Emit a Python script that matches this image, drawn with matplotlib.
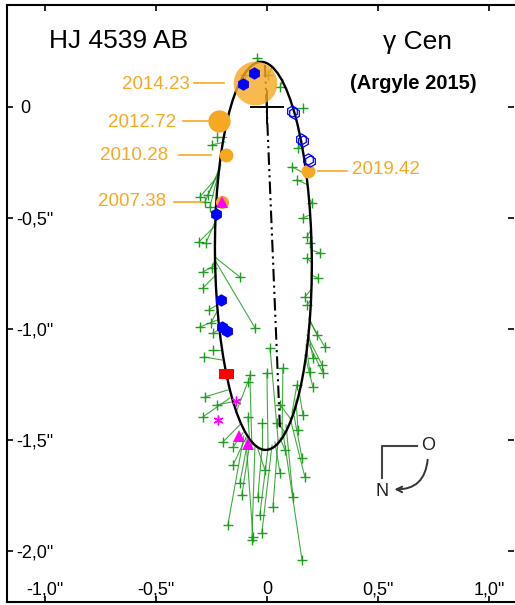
import matplotlib
matplotlib.use('Agg')
from matplotlib import pyplot as plt
from matplotlib.patches import Ellipse

plt.rcParams['font.family'] = ['Liberation Sans', 'DejaVu Sans']

# Beobachtungen (Bogensekunden) und zugehoerige Bahnpunkte
obs_x = [-0.045, -0.099, 0.005, 0.059, 0.162, 0.140, 0.113, 0.135, 0.203, 0.162,
         0.180, 0.194, 0.239, 0.180, 0.230, 0.171, 0.180, 0.225, 0.261, 0.207,
         0.248, 0.252, 0.194, 0.207, 0.162, 0.140, 0.158, 0.171, 0.117, 0.158,
         0.027, -0.023, -0.032, -0.041, -0.009, -0.068, -0.113, -0.122, -0.153, -0.176,
         -0.198, 0.059, 0.081, 0.045, 0.059, 0.014, -0.077, 0.000, 0.072, 0.135,
         -0.023, -0.086, -0.288, -0.279, -0.225, -0.153, -0.086, -0.063, -0.302, -0.284,
         -0.252, -0.261, -0.243, -0.288, -0.288, -0.248, -0.122, -0.054, -0.306, -0.275,
         -0.302, -0.266, -0.279, -0.257, -0.225, -0.248, -0.243]
obs_y = [0.221, 0.144, 0.144, 0.090, -0.005, -0.185, -0.270, -0.329, -0.432, -0.500,
         -0.586, -0.613, -0.658, -0.680, -0.770, -0.856, -0.892, -1.027, -1.081, -1.131,
         -1.162, -1.198, -1.194, -1.261, -1.387, -1.455, -1.581, -1.667, -1.757, -2.041,
         -1.802, -1.919, -1.838, -1.757, -1.635, -1.950, -1.748, -1.694, -1.613, -1.883,
         -1.509, -1.649, -1.545, -1.423, -1.342, -1.086, -1.207, -1.198, -1.176, -1.252,
         -1.423, -1.396, -1.396, -1.306, -1.342, -1.532, -1.239, -1.937, -0.991, -1.126,
         -0.973, -0.914, -1.018, -0.815, -0.743, -0.725, -0.766, -0.995, -0.608, -0.613,
         -0.405, -0.396, -0.428, -0.450, -0.135, -0.171, -1.095]
orb_x = [-0.036, -0.095, 0.023, 0.072, 0.126, 0.162, 0.180, 0.185, 0.194, 0.194,
         0.198, 0.198, 0.198, 0.198, 0.198, 0.198, 0.198, 0.189, 0.189, 0.185,
         0.180, 0.180, 0.176, 0.171, 0.144, 0.131, 0.117, 0.104, 0.086, 0.072,
         0.050, 0.023, 0.005, -0.023, -0.041, -0.054, -0.077, -0.086, -0.095, -0.104,
         -0.122, 0.036, 0.059, 0.081, 0.104, 0.050, -0.068, 0.005, 0.068, 0.113,
         -0.023, -0.077, -0.167, -0.176, -0.158, -0.108, -0.140, -0.095, -0.221, -0.203,
         -0.221, -0.225, -0.216, -0.230, -0.230, -0.230, -0.230, -0.230, -0.230, -0.230,
         -0.216, -0.212, -0.207, -0.212, -0.185, -0.189, -0.207]
orb_y = [0.203, 0.131, 0.176, 0.122, -0.005, -0.171, -0.306, -0.351, -0.419, -0.486,
         -0.554, -0.599, -0.644, -0.698, -0.757, -0.824, -0.869, -0.950, -0.959, -1.005,
         -1.027, -1.050, -1.072, -1.117, -1.275, -1.320, -1.365, -1.401, -1.432, -1.464,
         -1.500, -1.523, -1.536, -1.545, -1.541, -1.532, -1.514, -1.505, -1.491, -1.482,
         -1.432, -1.509, -1.491, -1.464, -1.401, -1.500, -1.523, -1.541, -1.482, -1.378,
         -1.545, -1.514, -1.311, -1.275, -1.329, -1.468, -1.378, -1.491, -0.959, -1.140,
         -0.914, -0.892, -1.005, -0.757, -0.712, -0.680, -0.680, -0.698, -0.532, -0.509,
         -0.306, -0.284, -0.261, -0.275, -0.135, -0.158, -1.095]

# Sonderbeobachtungen
blue_x = [-0.059, -0.108, -0.230, -0.207, -0.203, -0.180]
blue_y = [0.153, 0.104, -0.482, -0.869, -0.991, -1.009]
blue_open_x = [0.113, 0.122, 0.153, 0.162, 0.185, 0.192]
blue_open_y = [-0.018, -0.027, -0.144, -0.153, -0.234, -0.243]
red_x = [-0.194, -0.171]
red_y = [-1.203, -1.203]
star_x = [-0.140, -0.221]
star_y = [-1.324, -1.410]
tri_x = [-0.126, -0.086, -0.203]
tri_y = [-1.482, -1.518, -0.428]

# Epochen
epochs = ['2014.23', '2012.72', '2010.28', '2007.38', '2019.42']
ep_x = [-0.054, -0.216, -0.185, -0.203, 0.185]
ep_y = [0.108, -0.063, -0.216, -0.428, -0.288]
ep_size = [31.5, 16, 10, 9.5, 10]

# Bahnelemente (scheinbare Ellipse)
orbit_center = (-0.016, -0.671)
orbit_a = 0.874
orbit_b = 0.218
orbit_tilt = 90.7

xticks = [-1.0, -0.5, 0, 0.5, 1.0]
xlabels = ['-1,0"', '-0,5"', '0', '0,5"', '1,0"']
yticks = [0, -0.5, -1.0, -1.5, -2.0]
ylabels = [' 0', '-0,5"', '-1,0"', '-1,5"', '-2,0"']

orange = '#f7a823'
green = '#1e9e1e'

fig = plt.figure(figsize=(5.15, 6.05), dpi=100)
ax = fig.add_axes([7/515, 3/605, 507/515, 597/605])
ax.set_xlim(-1.171, 1.113)
ax.set_ylim(-2.230, 0.459)

for ox, oy, px, py in zip(obs_x, obs_y, orb_x, orb_y):
    ax.plot([ox, px], [oy, py], color=green, lw=0.8, alpha=0.85, zorder=2)
ax.plot(obs_x, obs_y, '+', color=green, ms=7, mew=1.0, zorder=3)

ax.add_patch(Ellipse(orbit_center, 2*orbit_a, 2*orbit_b, angle=orbit_tilt,
                     fill=False, ec='black', lw=1.7, zorder=4))
ax.plot([-0.009, 0.059], [0.189, -1.455], color='black', lw=1.5,
        dashes=(6, 2, 1, 2, 1, 2), zorder=4)
ax.plot([0], [0], '+', color='black', ms=24, mew=1.4, zorder=4)

for i in range(len(epochs)):
    al = 0.8 if i == 0 else 1.0
    ax.plot(ep_x[i], ep_y[i], 'o', color=orange, ms=ep_size[i], mew=0, alpha=al, zorder=5)

ax.plot(blue_x, blue_y, 'h', color='#0000ff', ms=9, mew=0, zorder=6)
ax.plot(blue_open_x, blue_open_y, 'h', mfc='none', mec='#0000ff', ms=8, mew=0.9, zorder=6)
ax.plot(red_x, red_y, 's', color='#ff0000', ms=6.5, mew=0, zorder=6)
ax.plot(star_x, star_y, marker=(6, 2, 0), ls='none', color='#ff00ff', ms=7, mew=1, zorder=6)
ax.plot(tri_x, tri_y, '^', color='#ff00ff', ms=8, mew=0, zorder=6)

# Beschriftung der Epochen
lab_x = [-0.347, -0.410, -0.446, -0.455, 0.383]
lab_y = [0.099, -0.068, -0.221, -0.428, -0.284]
lead_x0 = [-0.329, -0.378, -0.396, -0.419, 0.230]
lead_x1 = [-0.194, -0.257, -0.252, -0.288, 0.360]
for i in range(len(epochs)):
    ha = 'left' if ep_x[i] > 0 else 'right'
    ax.text(lab_x[i], lab_y[i], epochs[i], color=orange, fontsize=13.5, ha=ha, va='center')
    ax.plot([lead_x0[i], lead_x1[i]], [ep_y[i], ep_y[i]], color=orange, lw=1.2, zorder=3)

ax.text(-0.982, 0.297, 'HJ 4539 AB', fontsize=19, ha='left', va='center')
ax.text(0.680, 0.293, 'γ Cen', fontsize=19, ha='center', va='center')
ax.text(0.658, 0.104, '(Argyle 2015)', fontsize=14.5, fontweight='bold', ha='center', va='center')

# Orientierung
ax.plot([0.518, 0.518, 0.676], [-1.671, -1.527, -1.527], color='#444444', lw=1.5)
ax.text(0.725, -1.523, 'O', fontsize=13, ha='center', va='center', color='#222222')
ax.text(0.518, -1.734, 'N', fontsize=13, ha='center', va='center', color='#222222')
ax.annotate('', xy=(0.562, -1.722), xytext=(0.725, -1.577),
            arrowprops=dict(arrowstyle='->', lw=1.4, color='#333333',
                            connectionstyle='arc3,rad=-0.5'))

ax.set_xticks(xticks, labels=xlabels)
ax.set_yticks(yticks, labels=ylabels)
ax.tick_params(axis='both', direction='in', length=4, width=1.2, labelsize=13,
               top=True, right=True)
ax.tick_params(axis='x', pad=-15)
ax.tick_params(axis='y', pad=-6.5)
for lab in ax.get_yticklabels():
    lab.set_ha('left')
ax.spines['right'].set_visible(False)
for s in ['left', 'top', 'bottom']:
    ax.spines[s].set_linewidth(1.5)

fig.savefig('out.png', dpi=100)
